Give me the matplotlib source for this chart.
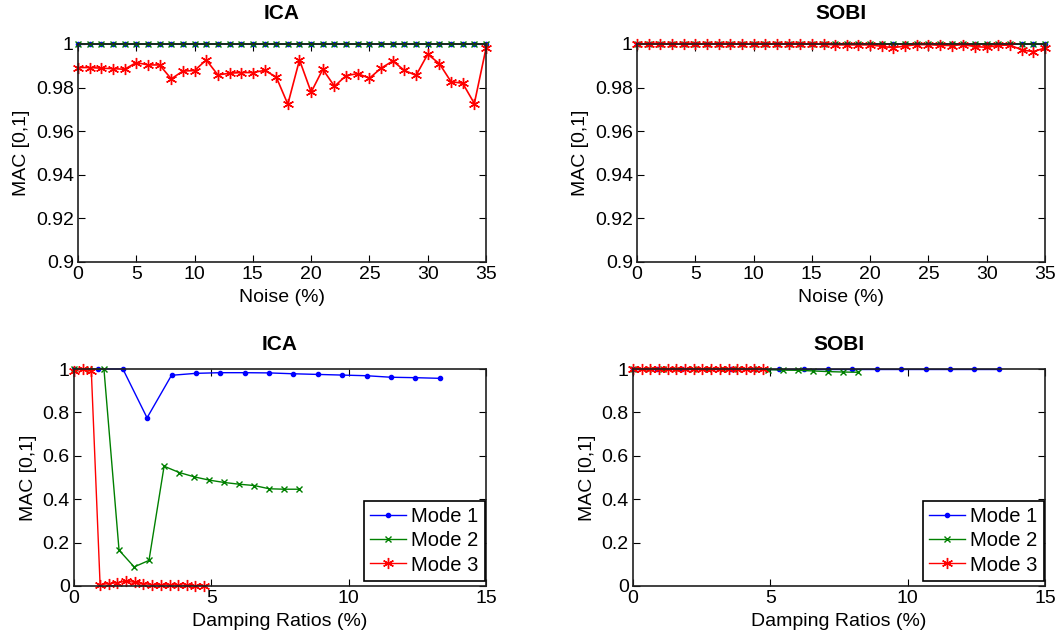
import numpy as np
import matplotlib
matplotlib.use("Agg")
import matplotlib.pyplot as plt
from matplotlib.ticker import FuncFormatter

plt.rcParams['font.family'] = ['Liberation Sans', 'DejaVu Sans']

# noise levels (%)
noise = [0, 1, 2, 3, 4, 5, 6, 7, 8, 9, 10, 11, 12, 13, 14, 15, 16, 17,
         18, 19, 20, 21, 22, 23, 24, 25, 26, 27, 28, 29, 30, 31, 32, 33, 34, 35]

# ICA vs noise
ica_noise_m1 = [1.0] * 36
ica_noise_m2 = [1.0] * 36
ica_noise_m3 = [0.9892, 0.9892, 0.9889, 0.9887, 0.9884, 0.9915, 0.9904, 0.9904,
                0.9840, 0.9876, 0.9878, 0.9927, 0.9858, 0.9866, 0.9869, 0.9869,
                0.9879, 0.9849, 0.9724, 0.9927, 0.9779, 0.9884, 0.9806, 0.9855,
                0.9864, 0.9843, 0.9889, 0.9922, 0.9879, 0.9856, 0.9953, 0.9910,
                0.9827, 0.9820, 0.9727, 0.9980]

# SOBI vs noise
sobi_noise_m1 = [1.0] * 36
sobi_noise_m2 = [1.0] * 36
sobi_noise_m3 = [1.0, 1.0, 1.0, 1.0, 1.0, 1.0, 1.0, 1.0, 1.0, 1.0, 1.0, 1.0,
                 1.0, 1.0, 1.0, 1.0, 0.9999, 0.9996, 0.9996, 0.9996, 0.9996, 0.9989,
                 0.9983, 0.9991, 0.9997, 0.9997, 0.9994, 0.9993, 0.9997, 0.9988,
                 0.9985, 0.9994, 0.9995, 0.9973, 0.9965, 0.9982]

# damping ratios (%) for each mode
damp_m1 = [0, 0.89, 1.78, 2.66, 3.55, 4.44, 5.33, 6.21, 7.10, 7.99, 8.88,
           9.76, 10.65, 11.54, 12.43, 13.32]
damp_m2 = [0, 0.55, 1.09, 1.64, 2.19, 2.73, 3.28, 3.83, 4.38, 4.92, 5.47,
           6.02, 6.56, 7.11, 7.66, 8.20]
damp_m3 = [0, 0.32, 0.63, 0.95, 1.26, 1.58, 1.90, 2.21, 2.53, 2.84, 3.16,
           3.48, 3.79, 4.11, 4.42, 4.74]

# ICA vs damping
ica_damp_m1 = [1.0, 1.0, 1.0, 0.775, 0.971, 0.980, 0.983, 0.983, 0.982, 0.978,
               0.975, 0.972, 0.969, 0.962, 0.960, 0.957]
ica_damp_m2 = [1.0, 1.0, 1.0, 0.165, 0.088, 0.118, 0.552, 0.523, 0.503, 0.488,
               0.477, 0.469, 0.463, 0.448, 0.446, 0.446]
ica_damp_m3 = [0.992, 1.0, 0.992, 0.006, 0.011, 0.015, 0.022, 0.017, 0.011,
               0.006, 0.006, 0.005, 0.005, 0.003, 0.002, 0.002]

# SOBI vs damping
sobi_damp_m1 = [1.0] * 16
sobi_damp_m2 = [1.0, 1.0, 1.0, 1.0, 0.9995, 0.999, 0.999, 0.9985, 0.998, 0.997,
                0.995, 0.994, 0.991, 0.988, 0.986, 0.985]
sobi_damp_m3 = [1.0] * 16

labels = ['Mode 1', 'Mode 2', 'Mode 3']
colors = ['#0000ff', '#008000', '#ff0000']
asterisk = (6, 2, 0)

W, H = 1062, 637
fig = plt.figure(figsize=(W / 100, H / 100), dpi=100)


def make_ax(left, right, top, bottom):
    return fig.add_axes([left / W, (H - bottom) / H, (right - left) / W, (bottom - top) / H])


def style(ax, title, xlabel, tpad):
    ax.set_title(title, fontsize=15, fontweight='bold', pad=tpad)
    ax.set_xlabel(xlabel, fontsize=14, labelpad=4)
    ax.set_ylabel('MAC [0,1]', fontsize=14, labelpad=4)
    ax.tick_params(direction='in', top=True, right=True, labelsize=14,
                   length=5, width=0.8, pad=3)
    for s in ax.spines.values():
        s.set_linewidth(1.2)
        s.set_color('#202020')
    ax.yaxis.set_major_formatter(FuncFormatter(lambda v, p: '%g' % round(v, 4)))


def draw(ax, xs, ys_list, lw=1.0):
    for x, y, c, m, lab in zip(xs, ys_list, colors, ['.', 'x', asterisk], labels):
        ms = {'.': 6, 'x': 5}.get(m, 8)
        ax.plot(x, y, color=c, marker=m, markersize=ms, linewidth=lw,
                markeredgewidth=1.0, label=lab, clip_on=False)


# top left
ax1 = make_ax(78, 486, 44, 262)
draw(ax1, [noise] * 3, [ica_noise_m1, ica_noise_m2, ica_noise_m3], lw=1.2)
ax1.set_xlim(0, 35)
ax1.set_ylim(0.9, 1.0)
ax1.set_xticks([0, 5, 10, 15, 20, 25, 30, 35])
ax1.set_yticks([0.9, 0.92, 0.94, 0.96, 0.98, 1.0])
style(ax1, 'ICA', 'Noise (%)', 18)

# top right
ax2 = make_ax(637, 1045, 44, 262)
draw(ax2, [noise] * 3, [sobi_noise_m1, sobi_noise_m2, sobi_noise_m3], lw=1.2)
ax2.set_xlim(0, 35)
ax2.set_ylim(0.9, 1.0)
ax2.set_xticks([0, 5, 10, 15, 20, 25, 30, 35])
ax2.set_yticks([0.9, 0.92, 0.94, 0.96, 0.98, 1.0])
style(ax2, 'SOBI', 'Noise (%)', 18)

# bottom left
ax3 = make_ax(74, 486, 369, 586)
draw(ax3, [damp_m1, damp_m2, damp_m3], [ica_damp_m1, ica_damp_m2, ica_damp_m3])
ax3.set_xlim(0, 15)
ax3.set_ylim(0, 1)
ax3.set_xticks([0, 5, 10, 15])
ax3.set_yticks([0, 0.2, 0.4, 0.6, 0.8, 1.0])
style(ax3, 'ICA', 'Damping Ratios (%)', 14)

# bottom right
ax4 = make_ax(633, 1045, 369, 586)
draw(ax4, [damp_m1, damp_m2, damp_m3], [sobi_damp_m1, sobi_damp_m2, sobi_damp_m3])
ax4.set_xlim(0, 15)
ax4.set_ylim(0, 1)
ax4.set_xticks([0, 5, 10, 15])
ax4.set_yticks([0, 0.2, 0.4, 0.6, 0.8, 1.0])
style(ax4, 'SOBI', 'Damping Ratios (%)', 14)

for ax in (ax3, ax4):
    leg = ax.legend(loc='lower right', bbox_to_anchor=(0.997, 0.025), fontsize=14.5,
                    fancybox=False, framealpha=1, edgecolor='black',
                    borderaxespad=0, handlelength=1.8, handletextpad=0.25,
                    labelspacing=0.25, borderpad=0.3)
    leg.get_frame().set_linewidth(1.2)

fig.savefig('out.png', dpi=100)
